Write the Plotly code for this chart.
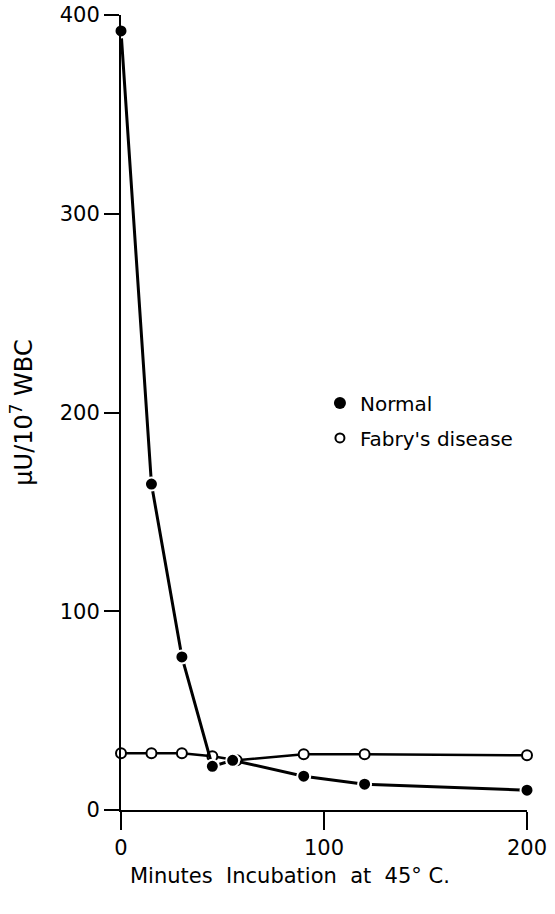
import plotly.graph_objects as go

minutes_normal = [0, 15, 30, 45, 55, 90, 120, 200]
normal = [392, 164, 77, 22, 25, 17, 13, 10]
minutes_fabry = [0, 15, 30, 45, 57, 90, 120, 200]
fabry = [28.5, 28.5, 28.5, 27, 25, 28, 28, 27.5]

x_ticks = [0, 100, 200]
y_ticks = [0, 100, 200, 300, 400]

FONT = "DejaVu Sans"

fig = go.Figure()
fig.add_trace(go.Scatter(
    x=minutes_fabry, y=fabry, mode="lines+markers", showlegend=False,
    line=dict(color="black", width=2.5),
    marker=dict(symbol="circle", size=10, color="white", line=dict(color="black", width=2)),
    cliponaxis=False,
))
fig.add_trace(go.Scatter(
    x=minutes_normal, y=normal, mode="lines+markers", showlegend=False,
    line=dict(color="black", width=3),
    marker=dict(symbol="circle", size=13, color="black", line=dict(color="white", width=2)),
    cliponaxis=False,
))
fig.add_trace(go.Scatter(x=[None], y=[None], mode="markers", name="Normal",
                         legendgroup="a",
                         marker=dict(symbol="circle", size=12, color="black")))
fig.add_trace(go.Scatter(x=[None], y=[None], mode="markers", name="Fabry's disease",
                         legendgroup="b",
                         marker=dict(symbol="circle", size=9, color="white",
                                     line=dict(color="black", width=2))))

fig.update_layout(
    width=555, height=914,
    margin=dict(l=121, r=28, t=15, b=104),
    paper_bgcolor="white", plot_bgcolor="white",
    font=dict(family=FONT, color="black", size=20),
    legend=dict(x=0.49, y=0.49, xanchor="left", yanchor="middle",
                bgcolor="rgba(0,0,0,0)", font=dict(size=20), itemwidth=30,
                traceorder="grouped", tracegroupgap=6),
    xaxis=dict(range=[0, 200], tickvals=x_ticks, showgrid=False, zeroline=False,
               showline=True, linecolor="black", linewidth=2, automargin=False,
               ticks="outside", ticklen=18, tickwidth=2, tickcolor="black",
               tickfont=dict(size=21)),
    yaxis=dict(range=[0, 400], tickvals=y_ticks, showgrid=False, zeroline=False,
               showline=True, linecolor="black", linewidth=2, automargin=False,
               ticks="outside", ticklen=15, tickwidth=2, tickcolor="black",
               tickfont=dict(size=21),
               title=dict(text="μU/10<sup>7</sup> WBC", font=dict(size=24), standoff=20)),
    annotations=[dict(text="Minutes  Incubation  at  45° C.", xref="paper", yref="paper",
                      x=0.416, y=-0.083, xanchor="center", yanchor="middle",
                      showarrow=False, font=dict(size=21))],
)

fig.write_html("out.html")
